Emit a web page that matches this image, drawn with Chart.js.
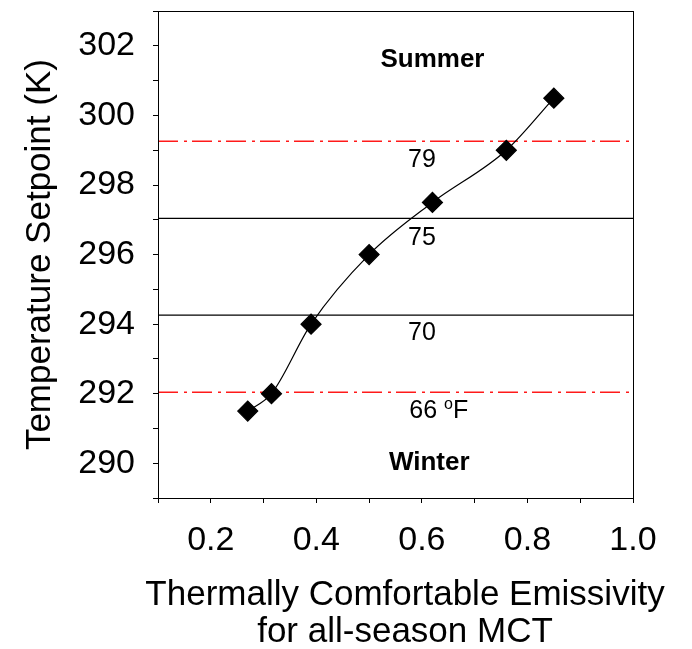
<!DOCTYPE html>
<html>
<head>
<meta charset="utf-8">
<script src="https://cdn.jsdelivr.net/npm/chart.js@4.4.1/dist/chart.umd.min.js"></script>
<style>
  html, body { margin: 0; padding: 0; background: #fff; }
  #wrap { width: 692px; height: 649px; }
</style>
</head>
<body>
<div id="wrap"><canvas id="chart" width="692" height="649"></canvas></div>
<script>
// values
const emissivity = [0.27, 0.315, 0.39, 0.50, 0.62, 0.76, 0.85];
const setpointK = [291.5, 292.0, 294.0, 296.0, 297.5, 299.0, 300.5];

// reference setpoints: 79, 75, 70, 66 F in kelvin
const refLevelsK = [299.26, 297.04, 294.26, 292.04];
const refDashed = [true, false, false, true];

// text notes inside the plot (data coords), '^' marks a superscript char
const noteTexts = ['Summer', '79', '75', '70', '66 ^oF', 'Winter'];
const noteX = [0.62, 0.60, 0.60, 0.60, 0.632, 0.614];
const noteY = [301.55, 298.65, 296.41, 293.68, 291.43, 289.97];
const noteBold = [true, false, false, false, false, true];

const xTitle = ['Thermally Comfortable Emissivity', 'for all-season MCT'];
const yTitle = 'Temperature Setpoint (K)';

const xMin = 0.1, xMax = 1.0, yMin = 289, yMax = 303;
const FONT = '"Liberation Sans", Arial, sans-serif';

const refSets = refLevelsK.map((v, i) => ({
  type: 'line',
  data: [{ x: xMin, y: v }, { x: xMax, y: v }],
  borderColor: refDashed[i] ? '#ff1a1a' : '#000',
  borderWidth: refDashed[i] ? 1.5 : 1.2,
  borderDash: refDashed[i] ? [20, 6, 3, 5] : [],
  pointRadius: 0,
  order: 2
}));

const framePlugin = {
  id: 'frame',
  afterDatasetsDraw(chart) {
    const { ctx, chartArea: a } = chart;
    ctx.save();
    ctx.strokeStyle = '#000';
    ctx.lineWidth = 1;
    ctx.strokeRect(Math.round(a.left) + 0.5, Math.round(a.top) + 0.5,
      Math.round(a.right - a.left), Math.round(a.bottom - a.top));
    // x title is drawn here so it is not squeezed to the plot width
    ctx.fillStyle = '#000';
    ctx.font = '35px ' + FONT;
    ctx.textAlign = 'center';
    ctx.textBaseline = 'alphabetic';
    const cx = (a.left + a.right) / 2 + 9.5;
    ctx.fillText(xTitle[0], cx, a.bottom + 107);
    ctx.fillText(xTitle[1], cx, a.bottom + 144);
    ctx.restore();
  }
};

const notesPlugin = {
  id: 'notes',
  afterDatasetsDraw(chart) {
    const { ctx } = chart;
    const xs = chart.scales.x, ys = chart.scales.y;
    ctx.save();
    ctx.fillStyle = '#000';
    ctx.textBaseline = 'alphabetic';
    noteTexts.forEach((t, i) => {
      const px = xs.getPixelForValue(noteX[i]);
      const size = noteBold[i] ? 26 : 25;
      const py = ys.getPixelForValue(noteY[i]) + size * 0.716 / 2 - 4;
      const main = (noteBold[i] ? 'bold ' : '') + size + 'px ' + FONT;
      const sup = '16px ' + FONT;
      const parts = [];
      for (let k = 0; k < t.length; k++) {
        if (t[k] === '^') { parts.push({ s: t[k + 1], sup: true }); k++; }
        else if (parts.length && !parts[parts.length - 1].sup) parts[parts.length - 1].s += t[k];
        else parts.push({ s: t[k], sup: false });
      }
      let w = 0;
      parts.forEach(p => { ctx.font = p.sup ? sup : main; p.w = ctx.measureText(p.s).width; w += p.w; });
      let cx = px - w / 2;
      ctx.textAlign = 'left';
      parts.forEach(p => {
        ctx.font = p.sup ? sup : main;
        ctx.fillText(p.s, cx, p.sup ? py - 9 : py);
        cx += p.w;
      });
    });
    ctx.restore();
  }
};

new Chart(document.getElementById('chart'), {
  type: 'line',
  data: {
    datasets: [{
      data: emissivity.map((x, i) => ({ x, y: setpointK[i] })),
      borderColor: '#000',
      borderWidth: 1.2,
      backgroundColor: '#000',
      pointStyle: 'rectRot',
      pointRadius: 10,
      pointHoverRadius: 10,
      cubicInterpolationMode: 'monotone',
      order: 1
    }, ...refSets]
  },
  options: {
    responsive: false,
    animation: false,
    layout: { padding: { top: 6, right: 59, left: 0, bottom: 0 } },
    plugins: { legend: { display: false }, tooltip: { enabled: false } },
    scales: {
      x: {
        type: 'linear', min: xMin, max: xMax,
        afterFit(s) { s.height = 151; s.paddingLeft = 0; s.paddingRight = 0; },
        border: { color: '#000', width: 1 },
        grid: { drawOnChartArea: false, drawTicks: true, tickLength: 5, color: '#000' },
        ticks: {
          stepSize: 0.1, padding: 17, color: '#000', maxRotation: 0, autoSkip: false,
          font: { family: FONT, size: 34 },
          callback: v => { const r = Math.round(v * 10); return (r % 2 === 0) ? (r / 10).toFixed(1) : ''; }
        }
      },
      y: {
        type: 'linear', min: yMin, max: yMax,
        afterFit(s) { s.width = 158; s.paddingTop = 0; s.paddingBottom = 0; },
        border: { color: '#000', width: 1 },
        grid: { drawOnChartArea: false, drawTicks: true, tickLength: 5, color: '#000' },
        ticks: {
          stepSize: 1, padding: 18, color: '#000', autoSkip: false,
          font: { family: FONT, size: 34 },
          callback: v => (v % 2 === 0 ? String(v) : '')
        },
        title: {
          display: true, color: '#000', text: yTitle,
          font: { family: FONT, size: 35, lineHeight: 1.2 },
          padding: { top: 19, bottom: 0 }
        }
      }
    }
  },
  plugins: [framePlugin, notesPlugin]
});
</script>
</body>
</html>
